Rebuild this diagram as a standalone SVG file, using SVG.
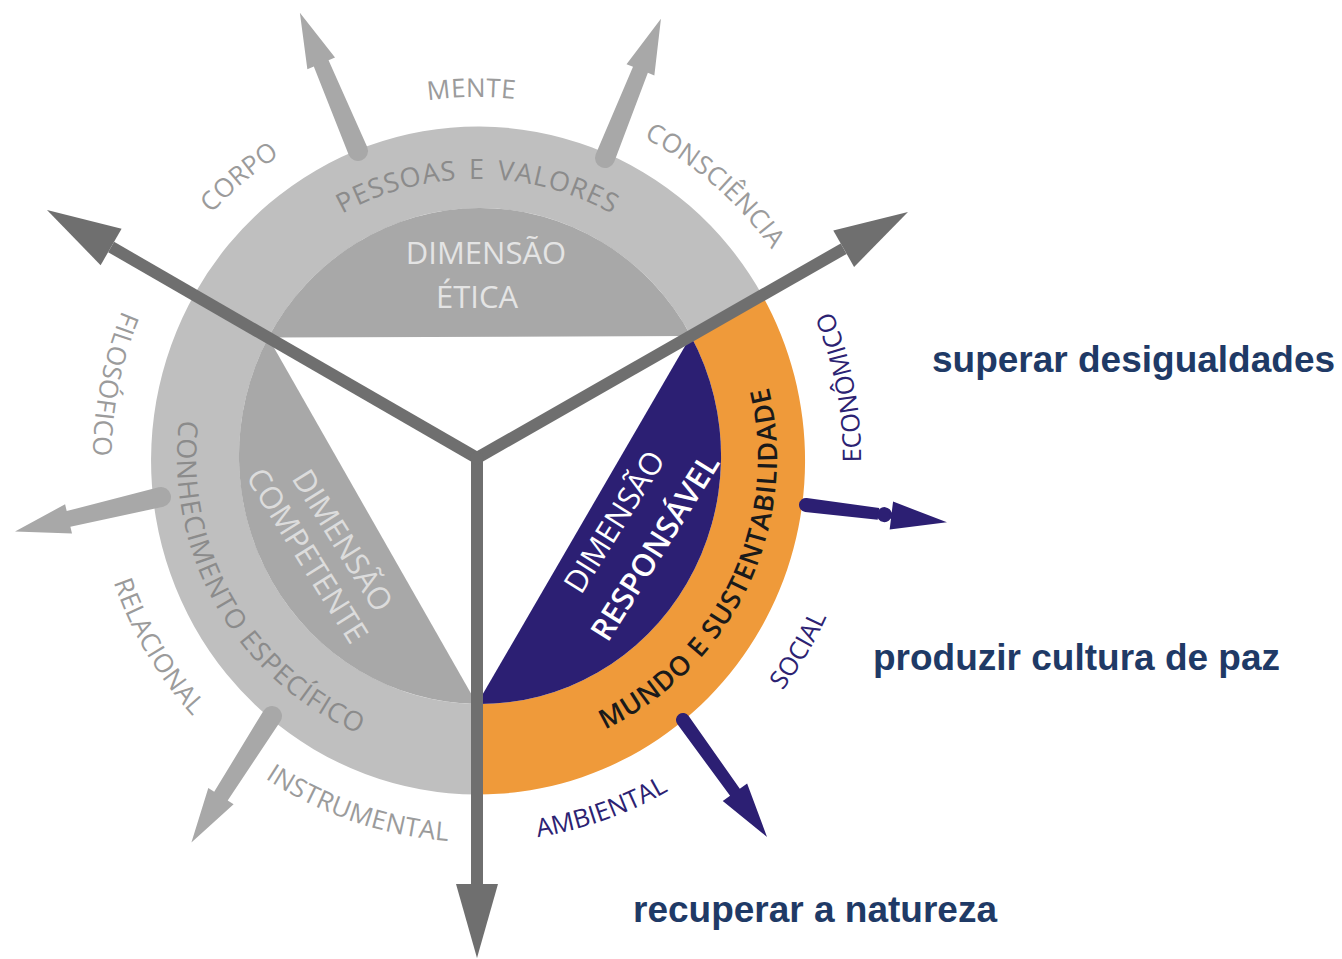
<svg xmlns="http://www.w3.org/2000/svg" width="1342" height="959" viewBox="0 0 1342 959">
<style>
text{font-family:"Open Sans","Noto Sans","DejaVu Sans",sans-serif;}
.outer{font-size:26px;fill:#9b9b9b;letter-spacing:0.3px;}
.navy{font-size:25.5px;fill:#2c2272;}
.ringt{font-size:27px;fill:#8b8b8b;}
.dimg{font-size:31px;text-anchor:middle;}
.goal{font-family:"Liberation Sans",Arial,sans-serif;font-weight:bold;font-size:37px;fill:#1f3a66;}
.main{stroke:#6f6f6f;stroke-width:12;fill:none;stroke-linejoin:miter;}
.garr{fill:#a8a8a8;}
.narr{fill:#2c1f73;}
</style>
<defs>
<path id="cw361" d="M838,458 A361,361 0 1 1 116,458 A361,361 0 1 1 838,458"/>
<path id="ccw384" d="M861,458 A384,384 0 1 0 93,458 A384,384 0 1 0 861,458 A384,384 0 1 0 93,458 A384,384 0 1 0 861,458"/>
<path id="cw279" d="M756,458 A279,279 0 1 1 198,458 A279,279 0 1 1 756,458"/>
<path id="ccw300" d="M777,458 A300,300 0 1 0 177,458 A300,300 0 1 0 777,458 A300,300 0 1 0 177,458 A300,300 0 1 0 777,458"/>
<path id="ga" d="M0,-10 L95,-8 L95,-15 L150,0 L95,15 L95,8 L0,10 A10,10 0 0 1 0,-10 Z"/>
<marker id="head" markerUnits="userSpaceOnUse" viewBox="0 -21 74 42" markerWidth="74" markerHeight="42" refX="0" refY="0" orient="auto" overflow="visible">
<path d="M0,-21 L74,0 L0,21 Z" fill="#6f6f6f"/>
</marker>
</defs>

<g id="ring">
<path id="ring-gray" d="M477,794.5 A327,334 0 1 1 762.2,295.2 L690.9,335.9 A241,248 0 1 0 477,704 Z" fill="#bfbfbf"/>
<path id="ring-orange" d="M762.2,295.2 A327,334 0 0 1 477,794.5 L477,704 A241,248 0 0 0 690.9,335.9 Z" fill="#ef9a3a"/>
</g>

<g id="dim-etica">
<path d="M268.2,337.6 A241,248 0 0 1 690.9,335.9 Z" fill="#a8a8a8"/>
<text class="dimg" x="486" y="264" fill="#e4e4e4" font-size="32">DIMENSÃO</text>
<text class="dimg" x="477" y="308" fill="#e4e4e4">ÉTICA</text>
</g>

<g id="dim-competente">
<path d="M477,704 A241,248 0 0 1 268.2,337.6 Z" fill="#a8a8a8"/>
<g transform="translate(325,548) rotate(58)">
<text class="dimg" x="3" y="-8" fill="#dcdcdc" font-size="32">DIMENSÃO</text>
<text class="dimg" x="-3" y="30" fill="#dcdcdc">COMPETENTE</text>
</g>
</g>

<g id="dim-responsavel">
<path d="M690.9,335.9 A241,248 0 0 1 477,704 Z" fill="#2c1f73"/>
<g transform="translate(634.5,534.5) rotate(-58)">
<text class="dimg" x="0" y="-13" fill="#ffffff" font-size="32">DIMENSÃO</text>
<text class="dimg" x="0" y="35" fill="#ffffff" font-weight="600" font-size="30">RESPONSÁVEL</text>
</g>
</g>

<g id="ring-labels">
<text class="ringt" text-anchor="middle" font-size="28" letter-spacing="1" word-spacing="4"><textPath href="#cw279" startOffset="1314.8">PESSOAS E VALORES</textPath></text>
<text class="ringt" text-anchor="middle" letter-spacing="1"><textPath href="#ccw300" startOffset="1098.3">CONHECIMENTO ESPECÍFICO</textPath></text>
<text text-anchor="middle" font-size="27" font-weight="600" fill="#1a1a1a" letter-spacing="0.8"><textPath href="#ccw300" startOffset="1750.9">MUNDO E SUSTENTABILIDADE</textPath></text>
</g>

<g id="outer-labels">
<text class="outer" text-anchor="middle"><textPath href="#cw361" startOffset="1694.9">MENTE</textPath></text>
<text class="outer" text-anchor="middle"><textPath href="#cw361" startOffset="1447.2">CORPO</textPath></text>
<text class="outer" text-anchor="middle"><textPath href="#cw361" startOffset="1959.5">CONSCIÊNCIA</textPath></text>
<text class="outer" text-anchor="middle"><textPath href="#ccw384" startOffset="1129.3">FILOSÓFICO</textPath></text>
<text class="outer" text-anchor="middle"><textPath href="#ccw384" startOffset="1410.8">RELACIONAL</textPath></text>
<text class="outer" text-anchor="middle"><textPath href="#ccw384" startOffset="1682.2">INSTRUMENTAL</textPath></text>
<text class="navy" text-anchor="middle"><textPath href="#ccw384" startOffset="2485.2">ECONÔMICO</textPath></text>
<text class="navy" text-anchor="middle"><textPath href="#ccw384" startOffset="2205.0">SOCIAL</textPath></text>
<text class="navy" text-anchor="middle"><textPath href="#ccw384" startOffset="1939.6">AMBIENTAL</textPath></text>
</g>

<g id="connectors">
<use href="#ga" class="garr" transform="translate(358,151) rotate(-112.8)"/>
<use href="#ga" class="garr" transform="translate(605,158) rotate(-68.1)"/>
<use href="#ga" class="garr" transform="translate(161,497) rotate(166.7)"/>
<use href="#ga" class="garr" transform="translate(272,716) rotate(122.5)"/>
<g class="narr" transform="translate(806,505) rotate(7)">
<path d="M0,-7 L73,-6 L73,6 L0,7 A7,7 0 0 1 0,-7 Z"/>
<circle cx="79" cy="0" r="7.5"/>
<path d="M84,-3 L86,-3 L86,-14 L142,0 L86,14 L86,3 L84,3 Z"/>
</g>
<g class="narr" transform="translate(683,720) rotate(54.3)">
<path d="M0,-7 L89,-6 L89,-15 L144,0 L89,15 L89,6 L0,7 A7,7 0 0 1 0,-7 Z"/>
</g>
<path class="main" d="M477,458 L111.1,247" marker-end="url(#head)"/>
<path class="main" d="M477,458 L843.7,248.7" marker-end="url(#head)"/>
<path class="main" d="M477,458 L477,884" marker-end="url(#head)"/>
<circle cx="477" cy="458" r="6.5" fill="#6f6f6f"/>
</g>

<g id="goals">
<text class="goal" x="932" y="372">superar desigualdades</text>
<text class="goal" x="873" y="670">produzir cultura de paz</text>
<text class="goal" x="633" y="922">recuperar a natureza</text>
</g>
</svg>
